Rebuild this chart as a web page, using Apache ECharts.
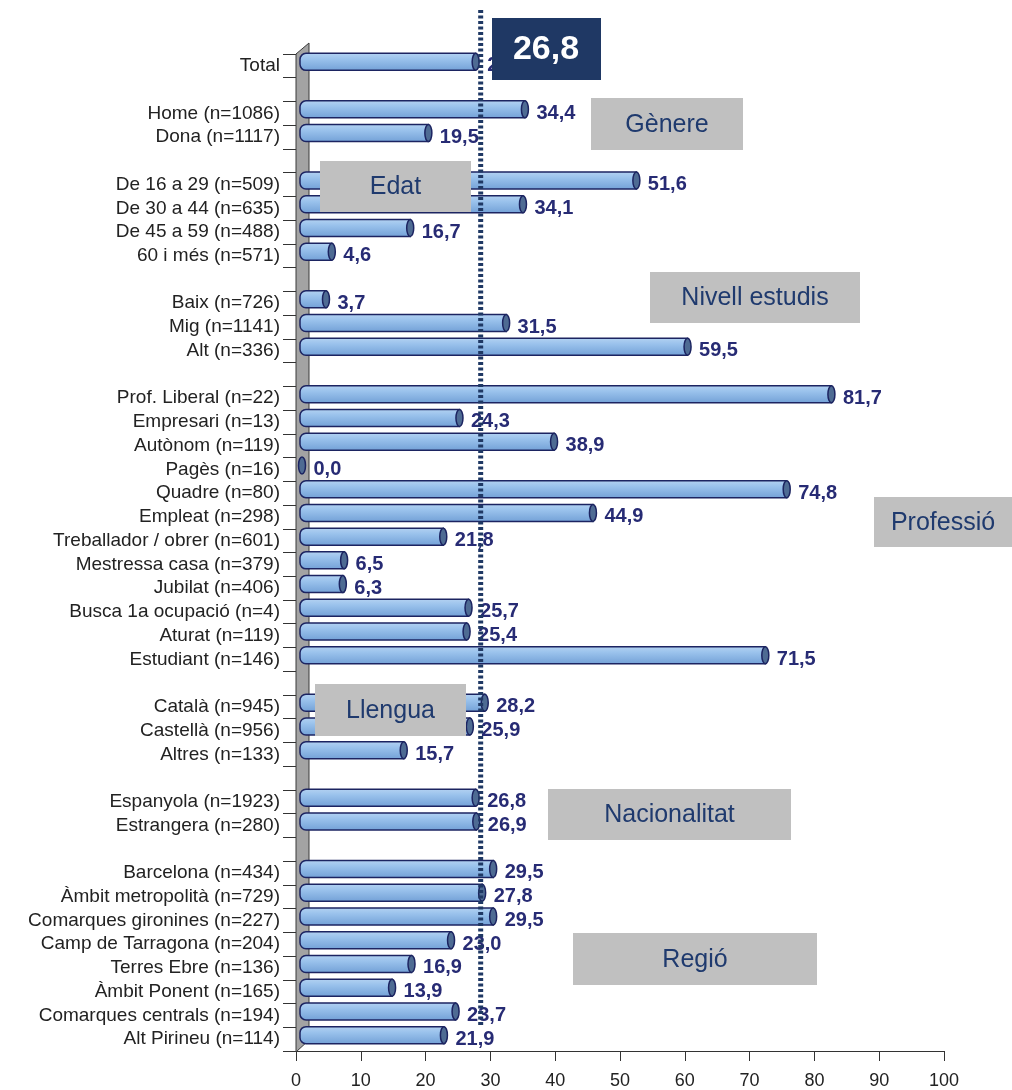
<!DOCTYPE html>
<html>
<head>
<meta charset="utf-8">
<script src="https://cdn.jsdelivr.net/npm/echarts@6/dist/echarts.min.js"></script>
<style>
  html, body { margin: 0; padding: 0; background: #fff; }
  #chart { width: 1012px; height: 1090px; }
</style>
</head>
<body>
<div id="chart"></div>
<script>
// dades per grups
const totalCats = ['Total']
const totalVals = [26.8]

const genereCats = ['Home (n=1086)', 'Dona (n=1117)']
const genereVals = [34.4, 19.5]

const edatCats = ['De 16 a 29 (n=509)', 'De 30 a 44 (n=635)', 'De 45 a 59 (n=488)', '60 i més (n=571)']
const edatVals = [51.6, 34.1, 16.7, 4.6]

const estudisCats = ['Baix (n=726)', 'Mig (n=1141)', 'Alt (n=336)']
const estudisVals = [3.7, 31.5, 59.5]

const professioCats = ['Prof. Liberal (n=22)', 'Empresari (n=13)', 'Autònom (n=119)', 'Pagès (n=16)',
  'Quadre (n=80)', 'Empleat (n=298)', 'Treballador / obrer (n=601)', 'Mestressa casa (n=379)',
  'Jubilat (n=406)', 'Busca 1a ocupació (n=4)', 'Aturat (n=119)', 'Estudiant (n=146)']
const professioVals = [81.7, 24.3, 38.9, 0.0, 74.8, 44.9, 21.8, 6.5, 6.3, 25.7, 25.4, 71.5]

const llenguaCats = ['Català (n=945)', 'Castellà (n=956)', 'Altres (n=133)']
const llenguaVals = [28.2, 25.9, 15.7]

const nacionalitatCats = ['Espanyola (n=1923)', 'Estrangera (n=280)']
const nacionalitatVals = [26.8, 26.9]

const regioCats = ['Barcelona (n=434)', 'Àmbit metropolità (n=729)', 'Comarques gironines (n=227)',
  'Camp de Tarragona (n=204)', 'Terres Ebre (n=136)', 'Àmbit Ponent (n=165)',
  'Comarques centrals (n=194)', 'Alt Pirineu (n=114)']
const regioVals = [29.5, 27.8, 29.5, 23.0, 16.9, 13.9, 23.7, 21.9]

const xTicks = [0, 10, 20, 30, 40, 50, 60, 70, 80, 90, 100]
const totalLabel = '26,8'
const refLinePos = 28.5   // línia de punts (posició llegida a l'eix)

// ------------------------------------------------
const groups = [
  [totalCats, totalVals],
  [genereCats, genereVals],
  [edatCats, edatVals],
  [estudisCats, estudisVals],
  [professioCats, professioVals],
  [llenguaCats, llenguaVals],
  [nacionalitatCats, nacionalitatVals],
  [regioCats, regioVals]
]

const rows = []
const barData = []
groups.forEach(([cats, vals], gi) => {
  if (gi > 0) rows.push(' '.repeat(gi)) // fila buida entre grups
  cats.forEach((c, i) => {
    barData.push([vals[i], rows.length])
    rows.push(c)
  })
})

const GRID = { left: 296, right: 68, top: 54, bottom: 38 }
const FONT = '"Liberation Sans", Arial, sans-serif'

const chart = echarts.init(document.getElementById('chart'))

function fmt(v) {
  return v.toFixed(1).replace('.', ',')
}

function renderBar(params, api) {
  const v = api.value(0)
  const idx = api.value(1)
  const start = api.coord([0, idx])
  const end = api.coord([v, idx])
  const dy = -4
  const h = 17
  const x0 = start[0] + 4
  const x1 = end[0] + 6
  const cy = start[1] + dy
  const rx = 3.5
  const children = []
  if (x1 - x0 > 3) {
    children.push({
      type: 'rect',
      shape: { x: x0, y: cy - h / 2, width: x1 - x0, height: h, r: [6, 0, 0, 6] },
      style: {
        fill: new echarts.graphic.LinearGradient(0, 0, 0, 1, [
          { offset: 0, color: '#b5d3f2' },
          { offset: 0.35, color: '#9ac2ec' },
          { offset: 1, color: '#72a0d6' }
        ]),
        stroke: '#1c2461',
        lineWidth: 1.5
      }
    })
  }
  children.push({
    type: 'ellipse',
    shape: { cx: x1, cy: cy, rx: rx, ry: h / 2 },
    style: { fill: '#4e6b93', stroke: '#1c2461', lineWidth: 1.5 }
  })
  children.push({
    type: 'text',
    x: x1 + rx + 8,
    y: cy + 4,
    style: {
      text: fmt(v),
      fill: '#272b74',
      font: 'bold 20px ' + FONT,
      verticalAlign: 'middle',
      align: 'left'
    }
  })
  return { type: 'group', children }
}

chart.setOption({
  animation: false,
  grid: GRID,
  xAxis: {
    type: 'value',
    min: xTicks[0],
    max: xTicks[xTicks.length - 1],
    interval: 10,
    splitLine: { show: false },
    axisLine: { show: true, lineStyle: { color: '#333', width: 1 } },
    axisTick: { show: true, length: 10, lineStyle: { color: '#333' } },
    axisLabel: { color: '#222', fontSize: 18, fontFamily: FONT, margin: 21 }
  },
  yAxis: {
    type: 'category',
    inverse: true,
    data: rows,
    axisLine: { show: false },
    axisTick: { show: true, interval: 0, length: 13, lineStyle: { color: '#333' } },
    axisLabel: {
      interval: 0, color: '#222', fontSize: 19, fontFamily: FONT, margin: 16,
      padding: [5, 0, 0, 0]
    },
    splitLine: { show: false }
  },
  series: [
    {
      type: 'custom',
      renderItem: renderBar,
      encode: { x: 0, y: 1 },
      data: barData,
      z: 5
    }
  ]
})

// ------------------------------------------------
// decoració: paret 3D, línia de punts, caixes de text
const x0 = chart.convertToPixel({ xAxisIndex: 0 }, 0)
const lineX = chart.convertToPixel({ xAxisIndex: 0 }, refLinePos)
const gTop = GRID.top
const gBottom = 1090 - GRID.bottom

function box(left, top, w, h, text) {
  return [
    { type: 'rect', z: 100, shape: { x: left, y: top, width: w, height: h }, style: { fill: '#c0c0c0' } },
    {
      type: 'text', z: 101, x: left + w / 2, y: top + h / 2 + 1,
      style: { text, fill: '#1f3a6e', font: '25px ' + FONT, align: 'center', verticalAlign: 'middle' }
    }
  ]
}

chart.setOption({
  graphic: [
    {
      type: 'polygon',
      z: 1,
      shape: { points: [[x0, gTop], [x0 + 13, gTop - 11], [x0 + 13, gBottom - 12], [x0, gBottom]] },
      style: { fill: '#a3a3a3', stroke: '#3a3a3a', lineWidth: 1 }
    },
    {
      type: 'line',
      z: 90,
      shape: { x1: lineX, y1: 10, x2: lineX, y2: 1025 },
      style: { stroke: '#1f3864', lineWidth: 5, lineDash: [3, 2.5] }
    },
    { type: 'rect', z: 100, shape: { x: 492, y: 18, width: 109, height: 62 }, style: { fill: '#1f3864' } },
    {
      type: 'text', z: 101, x: 546, y: 50,
      style: { text: totalLabel, fill: '#fff', font: 'bold 34px ' + FONT, align: 'center', verticalAlign: 'middle' }
    },
    ...box(591, 98, 152, 52, 'Gènere'),
    ...box(320, 161, 151, 51, 'Edat'),
    ...box(650, 272, 210, 51, 'Nivell estudis'),
    ...box(874, 497, 138, 50, 'Professió'),
    ...box(315, 684, 151, 52, 'Llengua'),
    ...box(548, 789, 243, 51, 'Nacionalitat'),
    ...box(573, 933, 244, 52, 'Regió')
  ]
})

window.addEventListener('resize', () => {
  chart.resize()
})
</script>
</body>
</html>
